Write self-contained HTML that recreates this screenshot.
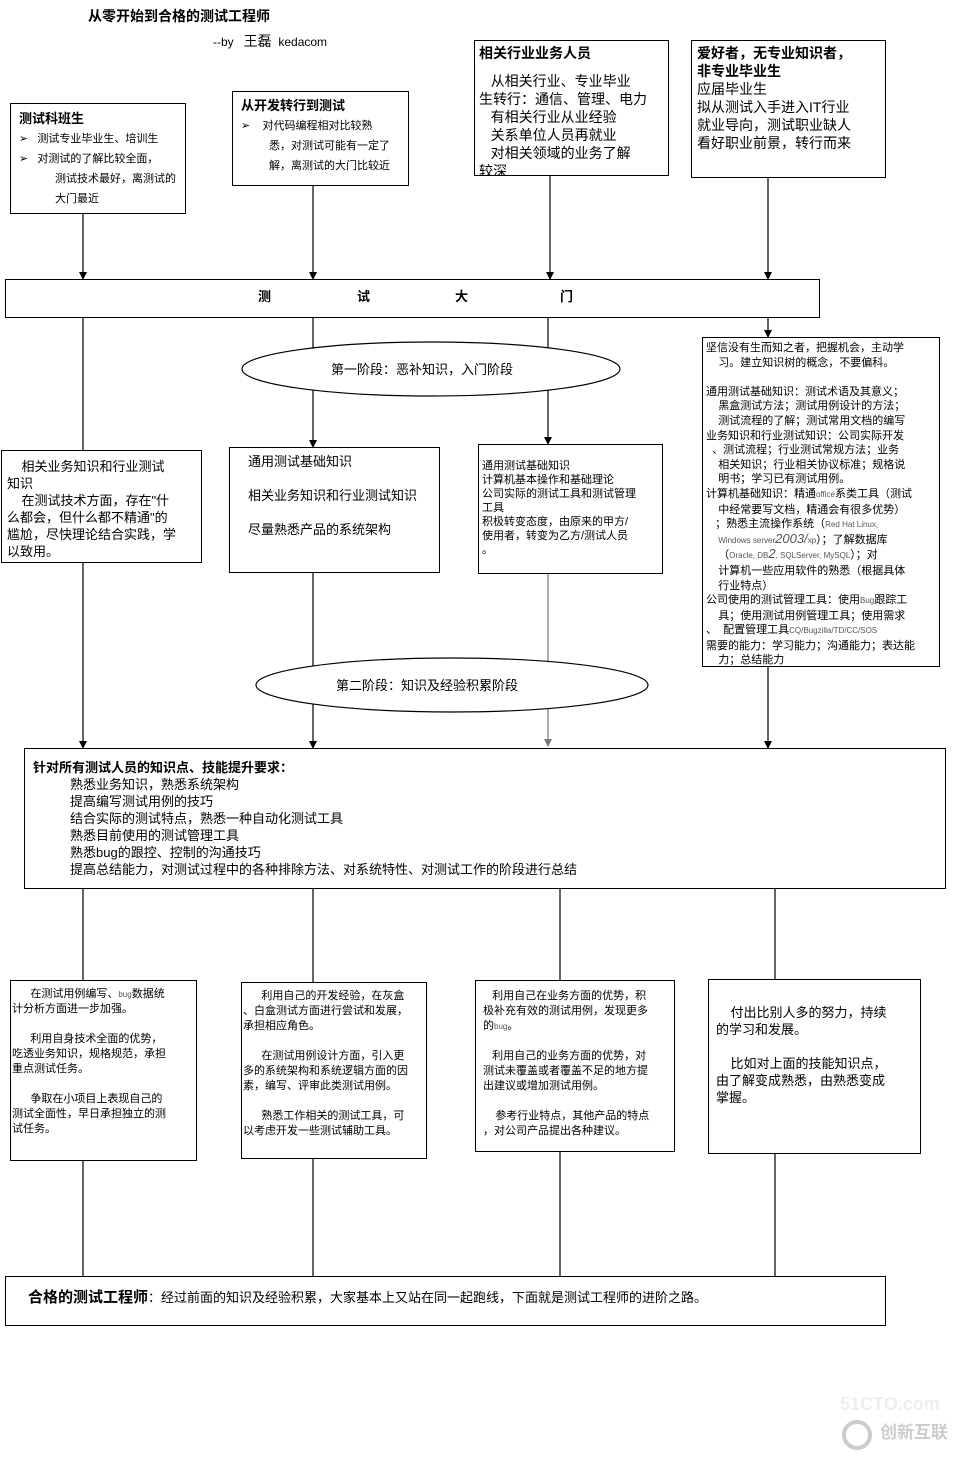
<!DOCTYPE html>
<html><head><meta charset="utf-8"><style>
body{margin:0;width:976px;height:1461px;background:#fff;position:relative;overflow:hidden;font-family:"Liberation Sans","Noto Sans CJK SC",sans-serif;color:#000}
.b{position:absolute;border:1px solid #000;background:#fff;box-sizing:border-box}
.t{position:absolute;white-space:nowrap}
p{margin:0}
svg{position:absolute;left:0;top:0}
</style></head><body>
<svg width="976" height="1461">
<defs><marker id="a" markerWidth="8" markerHeight="8" refX="7" refY="4" orient="auto" markerUnits="userSpaceOnUse"><path d="M0,0 L8,4 L0,8z" fill="#000"/></marker>
<marker id="g" markerWidth="8" markerHeight="8" refX="7" refY="4" orient="auto" markerUnits="userSpaceOnUse"><path d="M0,0 L8,4 L0,8z" fill="#777"/></marker></defs>
<g stroke="#000" stroke-width="1.2">
<line x1="83" y1="213" x2="83" y2="279" marker-end="url(#a)"/>
<line x1="313" y1="185" x2="313" y2="279" marker-end="url(#a)"/>
<line x1="550" y1="175" x2="550" y2="279" marker-end="url(#a)"/>
<line x1="768" y1="177" x2="768" y2="279" marker-end="url(#a)"/>
<line x1="83" y1="317" x2="83" y2="450"/>
<line x1="313" y1="317" x2="313" y2="447" marker-end="url(#a)"/>
<line x1="548" y1="317" x2="548" y2="444" marker-end="url(#a)"/>
<line x1="768" y1="317" x2="768" y2="337" marker-end="url(#a)"/>
<line x1="83" y1="562" x2="83" y2="748" marker-end="url(#a)"/>
<line x1="313" y1="572" x2="313" y2="748" marker-end="url(#a)"/>
<line x1="548" y1="573" x2="548" y2="746" stroke="#777" marker-end="url(#g)"/>
<line x1="768" y1="666" x2="768" y2="748" marker-end="url(#a)"/>
<line x1="83" y1="888" x2="83" y2="980"/>
<line x1="313" y1="888" x2="313" y2="982"/>
<line x1="560" y1="888" x2="560" y2="980"/>
<line x1="775" y1="888" x2="775" y2="979"/>
<line x1="83" y1="1160" x2="83" y2="1276"/>
<line x1="313" y1="1158" x2="313" y2="1276"/>
<line x1="560" y1="1151" x2="560" y2="1276"/>
<line x1="775" y1="1153" x2="775" y2="1276"/>
</g>
<ellipse cx="431" cy="369" rx="189" ry="27" fill="#fff" stroke="#000" stroke-width="1.2"/>
<ellipse cx="452" cy="685" rx="196" ry="27" fill="#fff" stroke="#000" stroke-width="1.2"/>
<text x="331" y="374" font-size="13" font-family="Liberation Sans,Noto Sans CJK SC,sans-serif">第一阶段：恶补知识，入门阶段</text>
<text x="336" y="690" font-size="13" font-family="Liberation Sans,Noto Sans CJK SC,sans-serif">第二阶段：知识及经验积累阶段</text>
<circle cx="857" cy="1435" r="13" fill="none" stroke="#ccc" stroke-width="4"/>
<text x="880" y="1438" font-size="17" fill="#ccc" font-weight="bold" font-family="Liberation Sans,Noto Sans CJK SC,sans-serif">创新互联</text>
<text x="840" y="1410" font-size="18" fill="#eee" font-weight="bold" font-family="Liberation Sans,sans-serif">51CTO.com</text>
</svg>
<div class="t" style="left:88px;top:6px;font-size:14px;font-weight:bold">从零开始到合格的测试工程师</div>
<div class="t" style="left:213px;top:31px;font-size:12px">--by &nbsp; <span style="font-size:14px">王磊</span> &nbsp;kedacom</div>

<div class="b" style="left:10px;top:103px;width:176px;height:111px;padding:5px 0 0 8px;font-size:11px;line-height:20px">
<p style="font-weight:bold;font-size:13px">测试科班生</p>
<p>➢ &nbsp;&nbsp;测试专业毕业生、培训生</p>
<p>➢ &nbsp;&nbsp;对测试的了解比较全面，</p>
<p style="padding-left:36px">测试技术最好，离测试的<br>大门最近</p></div>

<div class="b" style="left:232px;top:91px;width:177px;height:95px;padding:4px 0 0 8px;font-size:11px;line-height:20px">
<p style="font-weight:bold;font-size:13px">从开发转行到测试</p>
<p>➢ &nbsp;&nbsp;&nbsp;对代码编程相对比较熟</p>
<p style="padding-left:28px">悉，对测试可能有一定了<br>解，离测试的大门比较近</p></div>

<div class="b" style="left:474px;top:40px;width:195px;height:136px;padding:3px 0 0 4px;font-size:14px;line-height:18px;overflow:hidden">
<p style="font-weight:bold">相关行业业务人员</p>
<p style="margin-top:10px">&nbsp;&nbsp;&nbsp;从相关行业、专业毕业</p>
<p>生转行：通信、管理、电力</p>
<p>&nbsp;&nbsp;&nbsp;有相关行业从业经验</p>
<p>&nbsp;&nbsp;&nbsp;关系单位人员再就业</p>
<p>&nbsp;&nbsp;&nbsp;对相关领域的业务了解</p>
<p>较深</p></div>

<div class="b" style="left:691px;top:40px;width:195px;height:138px;padding:3px 0 0 5px;font-size:14px;line-height:18px">
<p style="font-weight:bold">爱好者，无专业知识者，<br>非专业毕业生</p>
<p>应届毕业生</p>
<p>拟从测试入手进入IT行业</p>
<p>就业导向，测试职业缺人</p>
<p>看好职业前景，转行而来</p></div>

<div class="b" style="left:5px;top:279px;width:815px;height:39px"></div>
<div class="t" style="left:258px;top:286px;font-size:13px;font-weight:bold">测</div>
<div class="t" style="left:357px;top:286px;font-size:13px;font-weight:bold">试</div>
<div class="t" style="left:455px;top:286px;font-size:13px;font-weight:bold">大</div>
<div class="t" style="left:560px;top:286px;font-size:13px;font-weight:bold">门</div>

<div class="b" style="left:1px;top:450px;width:201px;height:113px;padding:7px 0 0 5px;font-size:13px;line-height:17px">
<p>&nbsp;&nbsp;&nbsp;&nbsp;相关业务知识和行业测试<br>知识</p>
<p>&nbsp;&nbsp;&nbsp;&nbsp;在测试技术方面，存在"什<br>么都会，但什么都不精通"的<br>尴尬，尽快理论结合实践，学<br>以致用。</p></div>

<div class="b" style="left:229px;top:447px;width:211px;height:126px;padding:5px 0 0 18px;font-size:13px;line-height:17px">
<p>通用测试基础知识</p><p style="margin-top:17px">相关业务知识和行业测试知识</p><p style="margin-top:17px">尽量熟悉产品的系统架构</p></div>

<div class="b" style="left:478px;top:444px;width:185px;height:130px;padding:14px 0 0 3px;font-size:11px;line-height:14px">
<p>通用测试基础知识<br>计算机基本操作和基础理论<br>公司实际的测试工具和测试管理<br>工具<br>积极转变态度，由原来的甲方/<br>使用者，转变为乙方/测试人员<br>。</p></div>

<div class="b" style="left:702px;top:337px;width:238px;height:330px;padding:3px 0 0 3px;font-size:11px;line-height:14.6px;white-space:nowrap;overflow:hidden">
<p>坚信没有生而知之者，把握机会，主动学<br>&nbsp;&nbsp;&nbsp;&nbsp;习。建立知识树的概念，不要偏科。</p><br>
<p>通用测试基础知识：测试术语及其意义；<br>&nbsp;&nbsp;&nbsp;&nbsp;黑盒测试方法；测试用例设计的方法；<br>&nbsp;&nbsp;&nbsp;&nbsp;测试流程的了解；测试常用文档的编写<br>业务知识和行业测试知识：公司实际开发<br>&nbsp;&nbsp;、测试流程；行业测试常规方法；业务<br>&nbsp;&nbsp;&nbsp;&nbsp;相关知识；行业相关协议标准；规格说<br>&nbsp;&nbsp;&nbsp;&nbsp;明书；学习已有测试用例。<br>计算机基础知识：精通<span style="font-size:8px;color:#555">office</span>系类工具（测试<br>&nbsp;&nbsp;&nbsp;&nbsp;中经常要写文档，精通会有很多优势）<br>&nbsp;&nbsp;&nbsp;；熟悉主流操作系统（<span style="font-size:8px;color:#555">Red Hat Linux,</span><br>&nbsp;&nbsp;&nbsp;&nbsp;<span style="font-size:8px;color:#555">Windows server</span><i style="color:#555;font-size:13px;line-height:10px">2003/</i><span style="font-size:8px;color:#555">xp</span>）；了解数据库<br>&nbsp;&nbsp;&nbsp;&nbsp;（<span style="font-size:8px;color:#555">Oracle, DB</span><i style="color:#555;font-size:13px;line-height:10px">2</i><span style="font-size:8px;color:#555">, SQLServer, MySQL</span>）；对<br>&nbsp;&nbsp;&nbsp;&nbsp;计算机一些应用软件的熟悉（根据具体<br>&nbsp;&nbsp;&nbsp;&nbsp;行业特点）<br>公司使用的测试管理工具：使用<span style="font-size:8px;color:#555">Bug</span>跟踪工<br>&nbsp;&nbsp;&nbsp;&nbsp;具；使用测试用例管理工具；使用需求<br>、&nbsp;&nbsp;配置管理工具<span style="font-size:8px;color:#555">CQ/Bugzilla/TD/CC/SOS</span><br>需要的能力：学习能力；沟通能力；表达能<br>&nbsp;&nbsp;&nbsp;&nbsp;力；总结能力</p></div>

<div class="b" style="left:24px;top:748px;width:922px;height:141px;padding:10px 0 0 8px;font-size:13px;line-height:17px">
<p style="font-weight:bold">针对所有测试人员的知识点、技能提升要求：</p>
<div style="padding-left:37px">熟悉业务知识，熟悉系统架构<br>提高编写测试用例的技巧<br>结合实际的测试特点，熟悉一种自动化测试工具<br>熟悉目前使用的测试管理工具<br>熟悉bug的跟控、控制的沟通技巧<br>提高总结能力，对测试过程中的各种排除方法、对系统特性、对测试工作的阶段进行总结</div></div>

<div class="b" style="left:10px;top:980px;width:187px;height:181px;padding:6px 0 0 1px;font-size:11px;line-height:15px">
<p>&nbsp;&nbsp;&nbsp;&nbsp;&nbsp;&nbsp;在测试用例编写、<span style="font-size:8px;color:#555">bug</span>数据统<br>计分析方面进一步加强。</p><br>
<p>&nbsp;&nbsp;&nbsp;&nbsp;&nbsp;&nbsp;利用自身技术全面的优势，<br>吃透业务知识，规格规范，承担<br>重点测试任务。</p><br>
<p>&nbsp;&nbsp;&nbsp;&nbsp;&nbsp;&nbsp;争取在小项目上表现自己的<br>测试全面性，早日承担独立的测<br>试任务。</p></div>

<div class="b" style="left:241px;top:982px;width:186px;height:177px;padding:6px 0 0 1px;font-size:11px;line-height:15px">
<p>&nbsp;&nbsp;&nbsp;&nbsp;&nbsp;&nbsp;利用自己的开发经验，在灰盒<br>、白盒测试方面进行尝试和发展，<br>承担相应角色。</p><br>
<p>&nbsp;&nbsp;&nbsp;&nbsp;&nbsp;&nbsp;在测试用例设计方面，引入更<br>多的系统架构和系统逻辑方面的因<br>素，编写、评审此类测试用例。</p><br>
<p>&nbsp;&nbsp;&nbsp;&nbsp;&nbsp;&nbsp;熟悉工作相关的测试工具，可<br>以考虑开发一些测试辅助工具。</p></div>

<div class="b" style="left:475px;top:980px;width:200px;height:172px;padding:8px 0 0 7px;font-size:11px;line-height:15px">
<p>&nbsp;&nbsp;&nbsp;利用自己在业务方面的优势，积<br>极补充有效的测试用例，发现更多<br>的<span style="font-size:8px;color:#555">bug</span>。</p><br>
<p>&nbsp;&nbsp;&nbsp;利用自己的业务方面的优势，对<br>测试未覆盖或者覆盖不足的地方提<br>出建议或增加测试用例。</p><br>
<p>&nbsp;&nbsp;&nbsp;&nbsp;参考行业特点，其他产品的特点<br>，对公司产品提出各种建议。</p></div>

<div class="b" style="left:708px;top:979px;width:213px;height:175px;padding:24px 0 0 7px;font-size:13px;line-height:17px">
<p>&nbsp;&nbsp;&nbsp;&nbsp;付出比别人多的努力，持续<br>的学习和发展。</p><br>
<p>&nbsp;&nbsp;&nbsp;&nbsp;比如对上面的技能知识点，<br>由了解变成熟悉，由熟悉变成<br>掌握。</p></div>

<div class="b" style="left:5px;top:1276px;width:881px;height:50px;padding:9px 0 0 22px">
<span style="font-size:15px;font-weight:bold">合格的测试工程师</span><span style="font-size:13px">：经过前面的知识及经验积累，大家基本上又站在同一起跑线，下面就是测试工程师的进阶之路。</span></div>
</body></html>
